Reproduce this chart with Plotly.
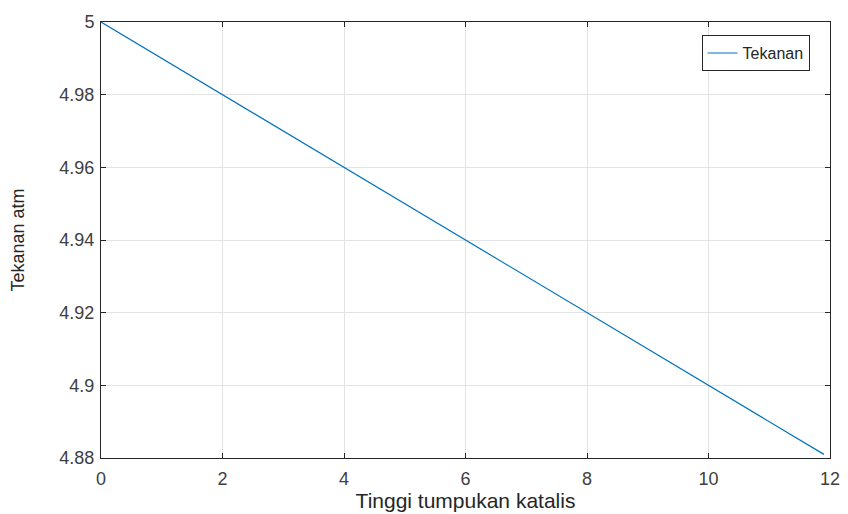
import plotly.graph_objects as go

# Data
tinggi = [0, 2, 4, 6, 8, 10, 11.9]
tekanan = [5.0, 4.98, 4.96, 4.94, 4.92, 4.90, 4.881]

x_ticks = [0, 2, 4, 6, 8, 10, 12]
x_ticktext = ["0", "2", "4", "6", "8", "10", "12"]
y_ticks = [4.88, 4.90, 4.92, 4.94, 4.96, 4.98, 5.0]
y_ticktext = ["4.88", "4.9", "4.92", "4.94", "4.96", "4.98", "5"]

fig = go.Figure()
fig.add_trace(go.Scatter(
    x=tinggi, y=tekanan, mode="lines", name="Tekanan",
    line=dict(color="#0072BD", width=1.2),
))

font_family = "Liberation Sans, Arial, Helvetica, sans-serif"
axis_common = dict(
    showline=True, linecolor="#262626", linewidth=1, mirror="allticks",
    ticks="inside", ticklen=5, tickcolor="#262626",
    showgrid=True, gridcolor="#e3e3e3", gridwidth=1,
    zeroline=False, automargin=False,
    tickfont=dict(family=font_family, size=18, color="#404040"),
)

fig.update_layout(
    width=848, height=514,
    margin=dict(l=101, r=18, t=22, b=56),
    paper_bgcolor="white", plot_bgcolor="white",
    font=dict(family=font_family, color="#262626"),
    xaxis=dict(range=[0, 12], tickvals=x_ticks, ticktext=x_ticktext,
               ticklabelstandoff=4,
               title=dict(text="Tinggi tumpukan katalis",
                          font=dict(family=font_family, size=21, color="#262626"),
                          standoff=4),
               **axis_common),
    yaxis=dict(range=[4.88, 5.0], tickvals=y_ticks, ticktext=y_ticktext,
               ticklabelstandoff=2,
               title=dict(text="Tekanan atm",
                          font=dict(family=font_family, size=18, color="#262626"),
                          standoff=30),
               **axis_common),
    showlegend=True,
    legend=dict(x=0.972, y=0.97, xanchor="right", yanchor="top",
                bgcolor="white", bordercolor="#262626", borderwidth=1,
                font=dict(family=font_family, size=16, color="#262626"),
                tracegroupgap=0),
)

fig.write_html("out.html")
